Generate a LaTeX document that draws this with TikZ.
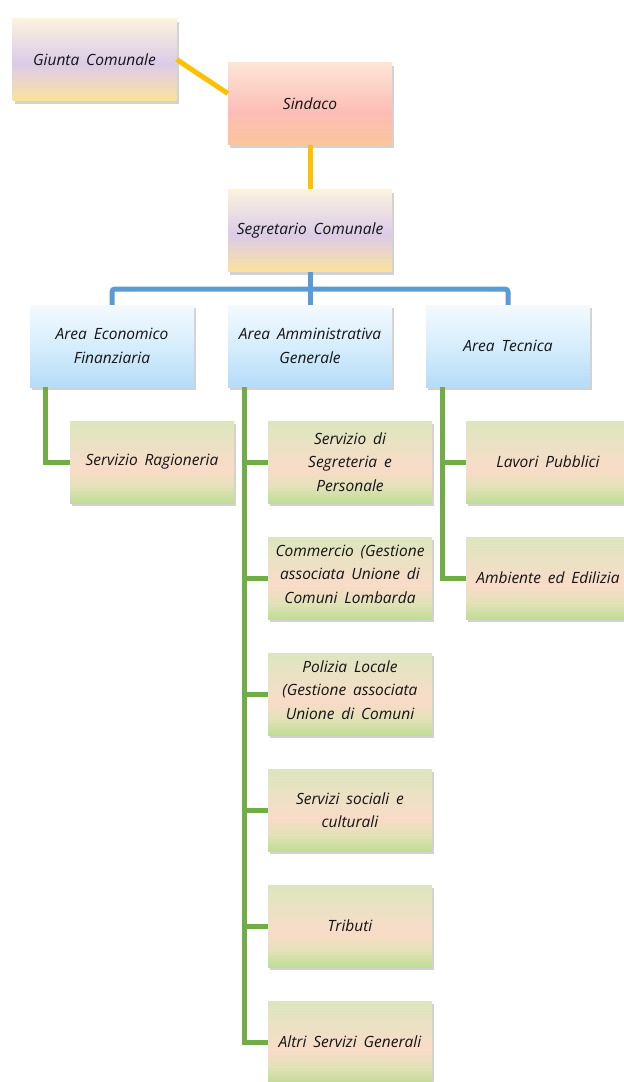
\documentclass[tikz,border=0pt]{standalone}
\usepackage{fontspec}
\setmainfont{Open Sans}[WordSpace=1.7]
\usetikzlibrary{shadows}
\definecolor{txt}{HTML}{141414}
\definecolor{yline}{HTML}{FFC000}
\definecolor{bline}{HTML}{5B9BD5}
\definecolor{gline}{HTML}{70AD47}
% purple/yellow boxes
\definecolor{pa}{HTML}{FBF3DE}
\definecolor{pb}{HTML}{DBCBE8}
\definecolor{pc}{HTML}{EBD5C8}
\definecolor{pd}{HTML}{FAE29C}
% sindaco
\definecolor{sa}{HTML}{FDE6D6}
\definecolor{sb}{HTML}{FCBDB6}
\definecolor{sc}{HTML}{FBC59C}
% blue
\definecolor{ba}{HTML}{F4FAFF}
\definecolor{bb}{HTML}{D6EDFC}
\definecolor{bc}{HTML}{B5DCF8}
% green
\definecolor{ga}{HTML}{DCE6BD}
\definecolor{gb}{HTML}{EBE1C4}
\definecolor{gc}{HTML}{F9DBC8}
\definecolor{gd}{HTML}{E2E2B8}
\definecolor{ge}{HTML}{C1DC96}
\pgfdeclareverticalshading{shpurple}{100bp}{color(0bp)=(pd); color(25bp)=(pd); color(37.5bp)=(pc); color(47.5bp)=(pb); color(75bp)=(pa); color(100bp)=(pa)}
\pgfdeclareverticalshading{shsind}{100bp}{color(0bp)=(sc); color(25bp)=(sc); color(45bp)=(sb); color(75bp)=(sa); color(100bp)=(sa)}
\pgfdeclareverticalshading{shblue}{100bp}{color(0bp)=(bc); color(25bp)=(bc); color(50bp)=(bb); color(75bp)=(ba); color(100bp)=(ba)}
\pgfdeclareverticalshading{shgreen}{100bp}{color(0bp)=(ge); color(25bp)=(ge); color(35bp)=(gd); color(45bp)=(gc); color(60bp)=(gb); color(75bp)=(ga); color(100bp)=(ga)}
\tikzset{
  boxfont/.style={text=txt, font=\itshape\fontsize{15.5}{23.5}\selectfont},
  orgbox/.style={minimum width=164pt, minimum height=82pt, inner sep=1pt,
    align=center, boxfont,
    drop shadow={shadow xshift=2pt, shadow yshift=-3pt, opacity=0.25, fill=black!70}},
  purplebox/.style={orgbox, shading=shpurple},
  sindbox/.style={orgbox, shading=shsind},
  bluebox/.style={orgbox, shading=shblue},
  greenbox/.style={orgbox, shading=shgreen},
  yconn/.style={draw=yline, line width=5pt},
  bconn/.style={draw=bline, line width=5pt, rounded corners=3pt},
  gconn/.style={draw=gline, line width=5pt}
}
\begin{document}
\begin{tikzpicture}[x=1pt,y=-1pt]
\useasboundingbox (0,0) rectangle (624,1082);
\fill[white] (0,0) rectangle (624,1082);
% nodes
\node[purplebox] (giunta) at (94.5,59.5) {Giunta Comunale};
\node[sindbox] (sind) at (310,103.5) {Sindaco};
\node[purplebox] (segr) at (310,230.5) {Segretario Comunale};
\node[bluebox] (aef) at (112,346) {Area Economico\\Finanziaria};
\node[bluebox] (aag) at (310,346) {Area Amministrativa\\Generale};
\node[bluebox] (at) at (508,346) {Area Tecnica};
\node[greenbox] (rag) at (152,462) {Servizio Ragioneria};
\node[greenbox] (sgp) at (350,462) {Servizio di\\Segreteria e\\Personale};
\node[greenbox] (lp) at (548,462) {Lavori Pubblici};
\node[greenbox] (comm) at (350,578) {};
\node[greenbox] (aed) at (548,578) {Ambiente ed Edilizia};
\node[greenbox] (pol) at (350,694) {};
\node[greenbox] (soc) at (350,810) {Servizi sociali e\\culturali};
\node[greenbox] (trib) at (350,926) {Tributi};
\node[greenbox] (altri) at (350,1042) {Altri Servizi Generali};
\node[align=center, boxfont, inner sep=0pt] (commt) at (350,574) {Commercio (Gestione\\associata Unione di\\Comuni Lombarda};
\node[align=center, boxfont, inner sep=0pt] (polt) at (350,690) {Polizia Locale\\(Gestione associata\\Unione di Comuni};
% connectors
\draw[yconn] (giunta.east) -- ([yshift=10pt]sind.west);
\draw[yconn] (sind.south) -- (segr.north);
\draw[bconn] (segr.south) -- (aag.north);
\coordinate (bus) at (310,289);
\draw[bconn] (aef.north) |- (bus) -| (at.north);
\draw[gconn] ([xshift=16pt]aef.south west) |- (rag.west);
\foreach \t in {sgp,comm,pol,soc,trib,altri}
  \draw[gconn] ([xshift=17pt]aag.south west) |- (\t.west);
\foreach \t in {lp,aed}
  \draw[gconn] ([xshift=17pt]at.south west) |- (\t.west);
\end{tikzpicture}
\end{document}
